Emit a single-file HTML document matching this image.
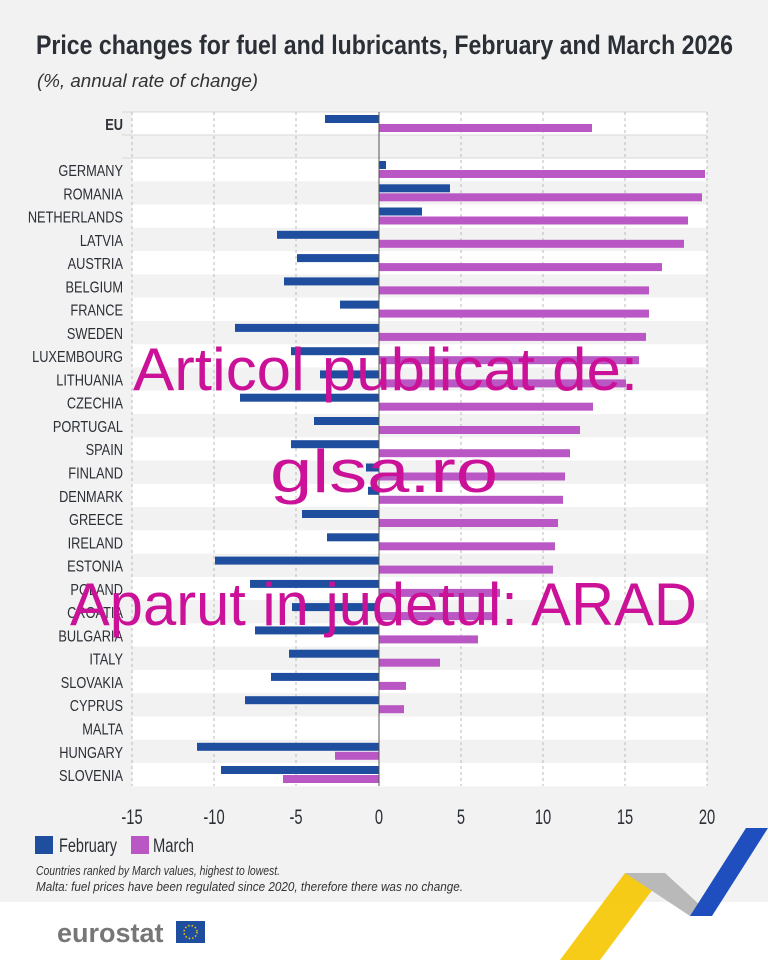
<!DOCTYPE html>
<html><head><meta charset="utf-8"><style>
html,body{margin:0;padding:0;background:#fff}
svg{display:block}
.c{font-family:"Liberation Sans Narrow","Liberation Sans",sans-serif}
</style></head><body>
<svg width="768" height="960" xmlns="http://www.w3.org/2000/svg" class="c">
<rect width="768" height="902" fill="#f2f2f2"/>
<text x="36" y="54" font-size="27" font-weight="bold" fill="#2b2f36" textLength="697" lengthAdjust="spacingAndGlyphs">Price changes for fuel and lubricants, February and March 2026</text>
<text x="37" y="87" font-size="18" font-style="italic" fill="#333" textLength="221" lengthAdjust="spacingAndGlyphs">(%, annual rate of change)</text>
<rect x="132" y="112" width="575" height="23" fill="#fff"/>
<g fill="#fff">
<rect x="132" y="158" width="575" height="23.3"/><rect x="132" y="204.5" width="575" height="23.3"/><rect x="132" y="251.1" width="575" height="23.3"/><rect x="132" y="297.6" width="575" height="23.3"/><rect x="132" y="344.2" width="575" height="23.3"/><rect x="132" y="390.7" width="575" height="23.3"/><rect x="132" y="437.2" width="575" height="23.3"/><rect x="132" y="483.8" width="575" height="23.3"/><rect x="132" y="530.3" width="575" height="23.3"/><rect x="132" y="576.9" width="575" height="23.3"/><rect x="132" y="623.4" width="575" height="23.3"/><rect x="132" y="669.9" width="575" height="23.3"/><rect x="132" y="716.5" width="575" height="23.3"/><rect x="132" y="763" width="575" height="23.3"/>
</g>
<g stroke="#d8d8d8" stroke-width="1">
<line x1="122" x2="707" y1="112" y2="112"/><line x1="122" x2="707" y1="135" y2="135"/><line x1="122" x2="707" y1="158" y2="158"/>
</g>
<g stroke="#bbb" stroke-dasharray="3,3" stroke-width="1">
<line x1="132" x2="132" y1="112" y2="786"/><line x1="214" x2="214" y1="112" y2="786"/><line x1="296" x2="296" y1="112" y2="786"/><line x1="461" x2="461" y1="112" y2="786"/><line x1="543" x2="543" y1="112" y2="786"/><line x1="625" x2="625" y1="112" y2="786"/><line x1="707" x2="707" y1="112" y2="786"/>
</g>
<g fill="#1f4e9f">
<rect x="325" y="115" width="54" height="8"/>
<rect x="379" y="161" width="7" height="8"/>
<rect x="379" y="184.3" width="71" height="8"/>
<rect x="379" y="207.5" width="43" height="8"/>
<rect x="277" y="230.8" width="102" height="8"/>
<rect x="297" y="254.1" width="82" height="8"/>
<rect x="284" y="277.4" width="95" height="8"/>
<rect x="340" y="300.6" width="39" height="8"/>
<rect x="235" y="323.9" width="144" height="8"/>
<rect x="291" y="347.2" width="88" height="8"/>
<rect x="320" y="370.4" width="59" height="8"/>
<rect x="240" y="393.7" width="139" height="8"/>
<rect x="314" y="417" width="65" height="8"/>
<rect x="291" y="440.2" width="88" height="8"/>
<rect x="366" y="463.5" width="13" height="8"/>
<rect x="368" y="486.8" width="11" height="8"/>
<rect x="302" y="510" width="77" height="8"/>
<rect x="327" y="533.3" width="52" height="8"/>
<rect x="215" y="556.6" width="164" height="8"/>
<rect x="250" y="579.9" width="129" height="8"/>
<rect x="292" y="603.1" width="87" height="8"/>
<rect x="255" y="626.4" width="124" height="8"/>
<rect x="289" y="649.7" width="90" height="8"/>
<rect x="271" y="672.9" width="108" height="8"/>
<rect x="245" y="696.2" width="134" height="8"/>
<rect x="197" y="742.8" width="182" height="8"/>
<rect x="221" y="766" width="158" height="8"/>
</g>
<g fill="#b957c4">
<rect x="379" y="124" width="213" height="8"/>
<rect x="379" y="170" width="326" height="8"/>
<rect x="379" y="193.3" width="323" height="8"/>
<rect x="379" y="216.5" width="309" height="8"/>
<rect x="379" y="239.8" width="305" height="8"/>
<rect x="379" y="263.1" width="283" height="8"/>
<rect x="379" y="286.4" width="270" height="8"/>
<rect x="379" y="309.6" width="270" height="8"/>
<rect x="379" y="332.9" width="267" height="8"/>
<rect x="379" y="356.2" width="260" height="8"/>
<rect x="379" y="379.4" width="247" height="8"/>
<rect x="379" y="402.7" width="214" height="8"/>
<rect x="379" y="426" width="201" height="8"/>
<rect x="379" y="449.2" width="191" height="8"/>
<rect x="379" y="472.5" width="186" height="8"/>
<rect x="379" y="495.8" width="184" height="8"/>
<rect x="379" y="519" width="179" height="8"/>
<rect x="379" y="542.3" width="176" height="8"/>
<rect x="379" y="565.6" width="174" height="8"/>
<rect x="379" y="588.9" width="121" height="8"/>
<rect x="379" y="612.1" width="118" height="8"/>
<rect x="379" y="635.4" width="99" height="8"/>
<rect x="379" y="658.7" width="61" height="8"/>
<rect x="379" y="681.9" width="27" height="8"/>
<rect x="379" y="705.2" width="25" height="8"/>
<rect x="335" y="751.8" width="44" height="8"/>
<rect x="283" y="775" width="96" height="8"/>
</g>
<line x1="379" x2="379" y1="112" y2="786" stroke="#555" stroke-width="1"/>
<g transform="translate(123,0) scale(0.8,1)" font-size="16" fill="#2b2f36" text-anchor="end">
<text x="0" y="130" font-weight="bold">EU</text>
<text x="0" y="176">GERMANY</text><text x="0" y="199.3">ROMANIA</text><text x="0" y="222.5">NETHERLANDS</text><text x="0" y="245.8">LATVIA</text><text x="0" y="269.1">AUSTRIA</text><text x="0" y="292.4">BELGIUM</text><text x="0" y="315.6">FRANCE</text><text x="0" y="338.9">SWEDEN</text><text x="0" y="362.2">LUXEMBOURG</text><text x="0" y="385.4">LITHUANIA</text><text x="0" y="408.7">CZECHIA</text><text x="0" y="432">PORTUGAL</text><text x="0" y="455.2">SPAIN</text><text x="0" y="478.5">FINLAND</text><text x="0" y="501.8">DENMARK</text><text x="0" y="525">GREECE</text><text x="0" y="548.3">IRELAND</text><text x="0" y="571.6">ESTONIA</text><text x="0" y="594.9">POLAND</text><text x="0" y="618.1">CROATIA</text><text x="0" y="641.4">BULGARIA</text><text x="0" y="664.7">ITALY</text><text x="0" y="687.9">SLOVAKIA</text><text x="0" y="711.2">CYPRUS</text><text x="0" y="734.5">MALTA</text><text x="0" y="757.8">HUNGARY</text><text x="0" y="781">SLOVENIA</text>
</g>
<g font-size="21" fill="#2b2f36" text-anchor="middle">
<text transform="translate(132,824) scale(0.7,1)">-15</text><text transform="translate(214,824) scale(0.7,1)">-10</text><text transform="translate(296,824) scale(0.7,1)">-5</text><text transform="translate(379,824) scale(0.7,1)">0</text><text transform="translate(461,824) scale(0.7,1)">5</text><text transform="translate(543,824) scale(0.7,1)">10</text><text transform="translate(625,824) scale(0.7,1)">15</text><text transform="translate(707,824) scale(0.7,1)">20</text>
</g>
<rect x="35" y="836" width="18" height="18" fill="#1f4e9f"/>
<text x="59" y="852" font-size="19" fill="#2b2f36" textLength="58" lengthAdjust="spacingAndGlyphs">February</text>
<rect x="131" y="836" width="18" height="18" fill="#b957c4"/>
<text x="153" y="852" font-size="19" fill="#2b2f36" textLength="41" lengthAdjust="spacingAndGlyphs">March</text>
<text x="36" y="875" font-size="13" font-style="italic" fill="#333" textLength="244" lengthAdjust="spacingAndGlyphs">Countries ranked by March values, highest to lowest.</text>
<text x="36" y="891" font-size="13" font-style="italic" fill="#333" textLength="427" lengthAdjust="spacingAndGlyphs">Malta: fuel prices have been regulated since 2020, therefore there was no change.</text>
<polygon points="560,960 625,873 665,873 600,960" fill="#f6c600" opacity="0.9"/>
<polygon points="625,873 665,873 712,916 690,916" fill="#b9b9b9"/>
<polygon points="690,916 712,916 768,828 746,828" fill="#1f4fbf"/>
<text x="57" y="942" font-family="Liberation Sans,sans-serif" font-size="27" font-weight="bold" fill="#777">eurostat</text>
<rect x="176" y="921" width="29" height="22" fill="#1f4e9f"/>
<circle cx="190.5" cy="932" r="6.5" fill="none" stroke="#f6c600" stroke-width="1.5" stroke-dasharray="1.5,2"/>
<g fill="#cc1199" font-family="Liberation Sans,sans-serif" font-size="60">
<text x="133" y="390" textLength="505" lengthAdjust="spacingAndGlyphs">Articol publicat de:</text>
<text x="270" y="492" textLength="228" lengthAdjust="spacingAndGlyphs">glsa.ro</text>
<text x="70" y="625" textLength="627" lengthAdjust="spacingAndGlyphs">Aparut in judetul: ARAD</text>
</g>
</svg>
</body></html>
